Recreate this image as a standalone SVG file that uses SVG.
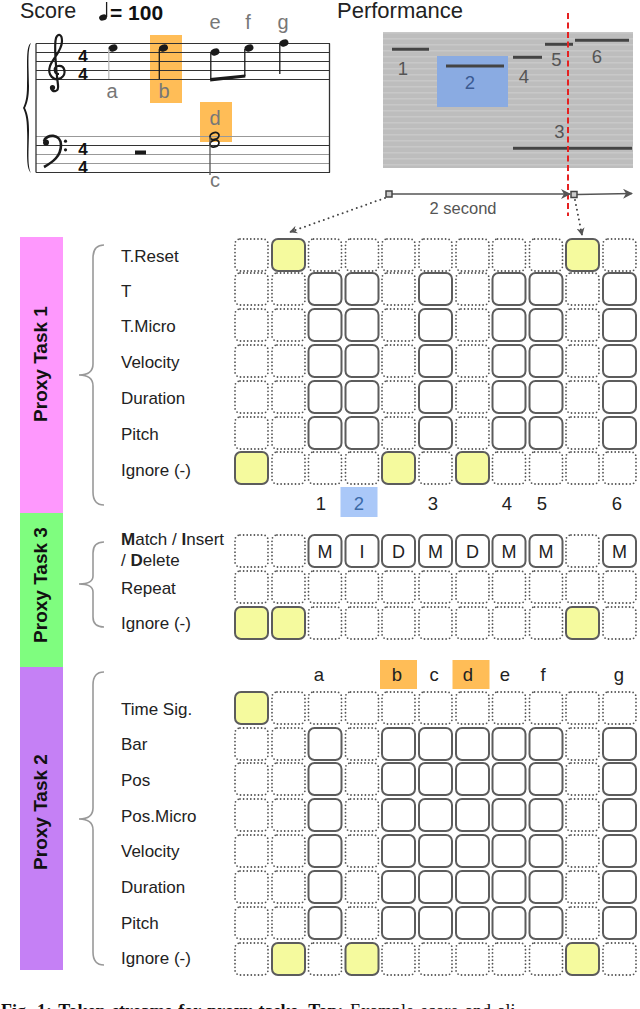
<svg xmlns="http://www.w3.org/2000/svg" width="640" height="1009" viewBox="0 0 640 1009">
<style>
.lbl{font-family:"Liberation Sans",Arial,sans-serif;font-size:17px;fill:#222}
.num{font-family:"Liberation Sans",Arial,sans-serif;font-size:18.5px;fill:#222;text-anchor:middle}
.pnum{font-family:"Liberation Sans",Arial,sans-serif;font-size:18.5px;fill:#555;text-anchor:middle}
.slbl{font-family:"Liberation Sans",Arial,sans-serif;font-size:20px;fill:#777;text-anchor:middle}
.ttl{font-family:"Liberation Sans",Arial,sans-serif;font-size:21.5px;fill:#222}
.task{font-family:"Liberation Sans",Arial,sans-serif;font-size:19px;font-weight:bold;fill:#111;text-anchor:middle}
.cl{font-family:"Liberation Sans",Arial,sans-serif;font-size:18px;fill:#222;text-anchor:middle}
.dot{fill:none;stroke:#555;stroke-width:1.8;stroke-linecap:round;stroke-dasharray:0 3.6}
.sol{fill:#fff;stroke:#5c5c5c;stroke-width:2}
.yel{fill:#f5fa9e;stroke:#5c5c5c;stroke-width:2}
.brace{fill:none;stroke:#999;stroke-width:1.6}
.staff{stroke:#333;stroke-width:1}
.ink{fill:#1a1a1a}
.stem{stroke:#1a1a1a;stroke-width:1.3}
.pbar{stroke:#444;stroke-width:3}
.tsig{font-family:"Liberation Sans",Arial,sans-serif;font-size:17px;font-weight:bold;fill:#111;text-anchor:middle}
</style>
<defs>
<rect id="cd" width="33" height="32" rx="5" class="dot"/>
<rect id="cs" width="33" height="32" rx="6" class="sol"/>
<rect id="cy" width="33" height="32" rx="6" class="yel"/>
<pattern id="stripes" width="10" height="6" patternUnits="userSpaceOnUse" y="32">
<rect width="10" height="6" fill="#bdbdbd"/><rect width="10" height="1.6" fill="#c8c8c8"/>
</pattern>
<marker id="ah" viewBox="0 0 10 10" refX="9" refY="5" markerWidth="8" markerHeight="8" orient="auto" markerUnits="userSpaceOnUse">
<path d="M0,0 L10,5 L0,10 L3,5 z" fill="#555"/>
</marker>
<marker id="ah2" viewBox="0 0 10 10" refX="9" refY="5" markerWidth="10" markerHeight="10" orient="auto" markerUnits="userSpaceOnUse">
<path d="M0,0 L10,5 L0,10 L3,5 z" fill="#555"/>
</marker>
</defs>
<rect width="640" height="1009" fill="#fff"/>

<!-- SCORE -->
<g id="score">
<text class="ttl" x="20" y="18">Score</text>
<g id="tempo">
<ellipse cx="103" cy="17.5" rx="4" ry="3" transform="rotate(-20 103 17.5)" class="ink"/>
<line x1="106.6" y1="17" x2="106.6" y2="2" class="stem"/>
<text x="110" y="19.5" style="font-family:'Liberation Sans',Arial,sans-serif;font-size:21px;font-weight:bold;fill:#111">= 100</text>
</g>
<rect x="150" y="35" width="32" height="68" fill="#ffbd57"/>
<rect x="200" y="102" width="32" height="40" fill="#ffbd57"/>
<g class="staff">
<line x1="36" y1="43.5" x2="330" y2="43.5"/><line x1="36" y1="52.5" x2="330" y2="52.5"/><line x1="36" y1="61.5" x2="330" y2="61.5"/><line x1="36" y1="70.5" x2="330" y2="70.5"/><line x1="36" y1="79.5" x2="330" y2="79.5"/>
<line x1="36" y1="136.5" x2="330" y2="136.5" stroke="#999"/><line x1="36" y1="145.5" x2="330" y2="145.5"/><line x1="36" y1="154.5" x2="330" y2="154.5" stroke="#999"/><line x1="36" y1="163.5" x2="330" y2="163.5" stroke="#999"/><line x1="36" y1="172.5" x2="330" y2="172.5"/>
<line x1="36" y1="43.5" x2="36" y2="172.5" stroke-width="1.3"/><line x1="329.5" y1="43.5" x2="329.5" y2="172.5" stroke-width="1.3"/>
</g>
<path d="M31 43 C25 46,28 70,27 86 C27 98,25 104,23 108 C25 112,27 118,27 130 C28 146,25 168,31 173 C27 166,29 146,29 130 C29 118,27 112,25 108 C27 104,29 98,29 86 C29 70,27 50,31 43 z" class="ink"/>
<path d="M59 74 C54 74,53 67,58 66 C65 65,67 74,61 78 C54 82,47 75,50 66 C53 58,62 51,62 41 C62 34,58 33,56 38 C54 45,56 70,58 85 C59 92,53 93,51 88" fill="none" stroke="#1a1a1a" stroke-width="2.2"/>
<circle cx="52.5" cy="87.5" r="2.6" class="ink"/>
<path d="M44 141 C46 134,61 133,61 145 C61 156,53 162,44 167" fill="none" stroke="#1a1a1a" stroke-width="2.6"/>
<circle cx="46" cy="142.5" r="3" class="ink"/>
<circle cx="65.5" cy="141.2" r="1.6" class="ink"/><circle cx="65.5" cy="149.8" r="1.6" class="ink"/>
<text class="tsig" x="83" y="61.5">4</text><text class="tsig" x="83" y="80">4</text>
<text class="tsig" x="83" y="154.5">4</text><text class="tsig" x="83" y="173">4</text>
<!-- notes -->
<ellipse cx="113" cy="48" rx="4.6" ry="3.4" transform="rotate(-20 113 48)" class="ink"/>
<line x1="108.8" y1="49" x2="108.8" y2="79" stroke="#bbb" stroke-width="1.3"/>
<ellipse cx="163.5" cy="48" rx="4.6" ry="3.4" transform="rotate(-20 163.5 48)" class="ink"/>
<line x1="159.3" y1="49" x2="159.3" y2="79" class="stem"/>
<ellipse cx="215" cy="52" rx="4.6" ry="3.4" transform="rotate(-20 215 52)" class="ink"/>
<line x1="210.8" y1="53" x2="210.8" y2="80" class="stem"/>
<ellipse cx="249" cy="48" rx="4.6" ry="3.4" transform="rotate(-20 249 48)" class="ink"/>
<line x1="244.8" y1="49" x2="244.8" y2="76" class="stem"/>
<polygon points="210.2,78 245.4,74.5 245.4,77.5 210.2,81.5" class="ink"/>
<ellipse cx="284" cy="43" rx="4.6" ry="3.4" transform="rotate(-20 284 43)" class="ink"/>
<line x1="279.8" y1="44" x2="279.8" y2="74" class="stem"/>
<rect x="135" y="150.5" width="11" height="4" class="ink"/>
<ellipse cx="214.5" cy="136" rx="4.6" ry="3.4" transform="rotate(-20 214.5 136)" fill="none" stroke="#1a1a1a" stroke-width="1.8"/>
<ellipse cx="214.5" cy="143.5" rx="4.6" ry="3.4" transform="rotate(-20 214.5 143.5)" fill="none" stroke="#1a1a1a" stroke-width="1.8"/>
<line x1="210" y1="137" x2="210" y2="175" stroke="#555" stroke-width="1.3"/>
<text class="slbl" x="112" y="98">a</text>
<text class="slbl" x="164" y="98">b</text>
<text class="slbl" x="215" y="29">e</text>
<text class="slbl" x="248" y="29">f</text>
<text class="slbl" x="283" y="29">g</text>
<text class="slbl" x="215" y="125">d</text>
<text class="slbl" x="215" y="187">c</text>
</g>

<!-- PERFORMANCE -->
<g id="performance">
<text class="ttl" x="337" y="18" style="font-size:22px">Performance</text>
<rect x="383" y="32" width="250" height="136" fill="url(#stripes)"/>
<rect x="437" y="56" width="71" height="51" fill="#8aabe2"/>
<line x1="392" y1="49.3" x2="429" y2="49.3" class="pbar"/>
<line x1="446" y1="66" x2="504" y2="66" class="pbar" stroke="#3a5590"/>
<line x1="513" y1="57.3" x2="542" y2="57.3" class="pbar"/>
<line x1="545" y1="44.3" x2="573" y2="44.3" class="pbar"/>
<line x1="575" y1="40.3" x2="629" y2="40.3" class="pbar"/>
<line x1="513" y1="148.3" x2="632" y2="148.3" class="pbar"/>
<text class="pnum" x="403" y="75">1</text>
<text class="pnum" x="470" y="88.5" style="fill:#3b5a92">2</text>
<text class="pnum" x="524" y="83">4</text>
<text class="pnum" x="556.5" y="66">5</text>
<text class="pnum" x="597" y="62.5">6</text>
<text class="pnum" x="559.5" y="138">3</text>
</g>

<!-- CONNECTORS -->
<g id="connectors">
<line x1="568" y1="13" x2="568" y2="216" stroke="#e62020" stroke-width="2" stroke-dasharray="6 3.5"/>
<line x1="392" y1="194" x2="570" y2="194" stroke="#555" stroke-width="1.6" marker-end="url(#ah2)"/>
<line x1="577" y1="194.5" x2="632" y2="193.5" stroke="#555" stroke-width="1.6" marker-end="url(#ah2)"/>
<rect x="386" y="191" width="6" height="6" fill="#ccc" stroke="#444" stroke-width="1.5"/>
<rect x="571" y="191.5" width="6" height="6" fill="#ccc" stroke="#444" stroke-width="1.5"/>
<path d="M385 198 L290 232" fill="none" stroke="#444" stroke-width="2" stroke-linecap="round" stroke-dasharray="0 5" marker-end="url(#ah)"/>
<path d="M575 200 L582 235" fill="none" stroke="#444" stroke-width="2" stroke-linecap="round" stroke-dasharray="0 5" marker-end="url(#ah)"/>
<text x="463" y="214" style="font-family:'Liberation Sans',Arial,sans-serif;font-size:16.5px;fill:#555" text-anchor="middle">2 second</text>
</g>

<!-- TASK BARS -->
<g id="task1-bar"><rect x="20" y="237" width="43" height="276" fill="#fe98fd"/><text class="task" transform="translate(47 364) rotate(-90)">Proxy Task 1</text></g>
<g id="task3-bar"><rect x="20" y="513" width="43" height="154" fill="#7ffd7f"/><text class="task" transform="translate(47 585) rotate(-90)">Proxy Task 3</text></g>
<g id="task2-bar"><rect x="20" y="667" width="43" height="303" fill="#c580f5"/><text class="task" transform="translate(47 812) rotate(-90)">Proxy Task 2</text></g>

<!-- BRACES -->
<g id="braces">
<path class="brace" d="M104 245 Q93 245 93 258 L93 364 Q93 375 79 375 Q93 375 93 386 L93 492 Q93 505 104 505"/>
<path class="brace" d="M104 542 Q93 542 93 553 L93 576 Q93 584 79 584 Q93 584 93 592 L93 617 Q93 627 104 627"/>
<path class="brace" d="M104 672 Q93 672 93 685 L93 808 Q93 819 79 819 Q93 819 93 830 L93 952 Q93 965 104 965"/>
</g>

<!-- TASK 1 -->
<g id="task1-labels">
<text class="lbl" x="121" y="262">T.Reset</text>
<text class="lbl" x="121" y="297">T</text>
<text class="lbl" x="121" y="332">T.Micro</text>
<text class="lbl" x="121" y="368">Velocity</text>
<text class="lbl" x="121" y="404">Duration</text>
<text class="lbl" x="121" y="440">Pitch</text>
<text class="lbl" x="121" y="476">Ignore (-)</text>
</g>
<g id="task1-grid">
<g id="t1-r0">
<use href="#cd" x="235" y="239"/><use href="#cy" x="272" y="239"/><use href="#cd" x="308.5" y="239"/><use href="#cd" x="345.5" y="239"/><use href="#cd" x="382" y="239"/><use href="#cd" x="419" y="239"/><use href="#cd" x="456" y="239"/><use href="#cd" x="492.5" y="239"/><use href="#cd" x="529.5" y="239"/><use href="#cy" x="566" y="239"/><use href="#cd" x="603" y="239"/>
</g>
<g id="t1-r1">
<use href="#cd" x="235" y="273"/><use href="#cd" x="272" y="273"/><use href="#cs" x="308.5" y="273"/><use href="#cs" x="345.5" y="273"/><use href="#cd" x="382" y="273"/><use href="#cs" x="419" y="273"/><use href="#cd" x="456" y="273"/><use href="#cs" x="492.5" y="273"/><use href="#cs" x="529.5" y="273"/><use href="#cd" x="566" y="273"/><use href="#cs" x="603" y="273"/>
</g>
<g id="t1-r2">
<use href="#cd" x="235" y="309"/><use href="#cd" x="272" y="309"/><use href="#cs" x="308.5" y="309"/><use href="#cs" x="345.5" y="309"/><use href="#cd" x="382" y="309"/><use href="#cs" x="419" y="309"/><use href="#cd" x="456" y="309"/><use href="#cs" x="492.5" y="309"/><use href="#cs" x="529.5" y="309"/><use href="#cd" x="566" y="309"/><use href="#cs" x="603" y="309"/>
</g>
<g id="t1-r3">
<use href="#cd" x="235" y="345"/><use href="#cd" x="272" y="345"/><use href="#cs" x="308.5" y="345"/><use href="#cs" x="345.5" y="345"/><use href="#cd" x="382" y="345"/><use href="#cs" x="419" y="345"/><use href="#cd" x="456" y="345"/><use href="#cs" x="492.5" y="345"/><use href="#cs" x="529.5" y="345"/><use href="#cd" x="566" y="345"/><use href="#cs" x="603" y="345"/>
</g>
<g id="t1-r4">
<use href="#cd" x="235" y="381"/><use href="#cd" x="272" y="381"/><use href="#cs" x="308.5" y="381"/><use href="#cs" x="345.5" y="381"/><use href="#cd" x="382" y="381"/><use href="#cs" x="419" y="381"/><use href="#cd" x="456" y="381"/><use href="#cs" x="492.5" y="381"/><use href="#cs" x="529.5" y="381"/><use href="#cd" x="566" y="381"/><use href="#cs" x="603" y="381"/>
</g>
<g id="t1-r5">
<use href="#cd" x="235" y="417"/><use href="#cd" x="272" y="417"/><use href="#cs" x="308.5" y="417"/><use href="#cs" x="345.5" y="417"/><use href="#cd" x="382" y="417"/><use href="#cs" x="419" y="417"/><use href="#cd" x="456" y="417"/><use href="#cs" x="492.5" y="417"/><use href="#cs" x="529.5" y="417"/><use href="#cd" x="566" y="417"/><use href="#cs" x="603" y="417"/>
</g>
<g id="t1-r6">
<use href="#cy" x="235" y="452"/><use href="#cd" x="272" y="452"/><use href="#cd" x="308.5" y="452"/><use href="#cd" x="345.5" y="452"/><use href="#cy" x="382" y="452"/><use href="#cd" x="419" y="452"/><use href="#cy" x="456" y="452"/><use href="#cd" x="492.5" y="452"/><use href="#cd" x="529.5" y="452"/><use href="#cd" x="566" y="452"/><use href="#cd" x="603" y="452"/>
</g>
</g>
<g id="task1-numbers">
<rect x="340.5" y="487" width="37" height="30" fill="#aac8f8"/>
<text class="num" x="321" y="510">1</text>
<text class="num" x="359" y="510" style="fill:#3b6aa8">2</text>
<text class="num" x="433" y="510">3</text>
<text class="num" x="507" y="510">4</text>
<text class="num" x="542" y="510">5</text>
<text class="num" x="617" y="510">6</text>
</g>

<!-- TASK 3 -->
<g id="task3-labels">
<text class="lbl" x="121" y="545"><tspan font-weight="bold">M</tspan>atch / <tspan font-weight="bold">I</tspan>nsert</text>
<text class="lbl" x="121" y="566">/ <tspan font-weight="bold">D</tspan>elete</text>
<text class="lbl" x="121" y="594">Repeat</text>
<text class="lbl" x="121" y="629">Ignore (-)</text>
</g>
<g id="task3-grid">
<g id="t3-r0">
<use href="#cd" x="235" y="535"/><use href="#cd" x="272" y="535"/><use href="#cs" x="308.5" y="535"/><use href="#cs" x="345.5" y="535"/><use href="#cs" x="382" y="535"/><use href="#cs" x="419" y="535"/><use href="#cs" x="456" y="535"/><use href="#cs" x="492.5" y="535"/><use href="#cs" x="529.5" y="535"/><use href="#cd" x="566" y="535"/><use href="#cs" x="603" y="535"/>
<text class="cl" x="325" y="558">M</text><text class="cl" x="362" y="558">I</text><text class="cl" x="398.5" y="558">D</text><text class="cl" x="435.5" y="558">M</text><text class="cl" x="472.5" y="558">D</text><text class="cl" x="509" y="558">M</text><text class="cl" x="546" y="558">M</text><text class="cl" x="619.5" y="558">M</text>
</g>
<g id="t3-r1">
<use href="#cd" x="235" y="571"/><use href="#cd" x="272" y="571"/><use href="#cd" x="308.5" y="571"/><use href="#cd" x="345.5" y="571"/><use href="#cd" x="382" y="571"/><use href="#cd" x="419" y="571"/><use href="#cd" x="456" y="571"/><use href="#cd" x="492.5" y="571"/><use href="#cd" x="529.5" y="571"/><use href="#cd" x="566" y="571"/><use href="#cd" x="603" y="571"/>
</g>
<g id="t3-r2">
<use href="#cy" x="235" y="607"/><use href="#cy" x="272" y="607"/><use href="#cd" x="308.5" y="607"/><use href="#cd" x="345.5" y="607"/><use href="#cd" x="382" y="607"/><use href="#cd" x="419" y="607"/><use href="#cd" x="456" y="607"/><use href="#cd" x="492.5" y="607"/><use href="#cd" x="529.5" y="607"/><use href="#cy" x="566" y="607"/><use href="#cd" x="603" y="607"/>
</g>
</g>

<!-- TASK 2 -->
<g id="task2-letters">
<rect x="380" y="660" width="37" height="29" fill="#ffbd57"/>
<rect x="452.5" y="660" width="37" height="29" fill="#ffbd57"/>
<text class="num" x="319" y="681">a</text>
<text class="num" x="397" y="681">b</text>
<text class="num" x="434" y="681">c</text>
<text class="num" x="468" y="681">d</text>
<text class="num" x="505" y="681">e</text>
<text class="num" x="543" y="681">f</text>
<text class="num" x="619" y="681">g</text>
</g>
<g id="task2-labels">
<text class="lbl" x="121" y="715">Time Sig.</text>
<text class="lbl" x="121" y="750">Bar</text>
<text class="lbl" x="121" y="786">Pos</text>
<text class="lbl" x="121" y="822">Pos.Micro</text>
<text class="lbl" x="121" y="857">Velocity</text>
<text class="lbl" x="121" y="893">Duration</text>
<text class="lbl" x="121" y="929">Pitch</text>
<text class="lbl" x="121" y="964">Ignore (-)</text>
</g>
<g id="task2-grid">
<g id="t2-r0">
<use href="#cy" x="235" y="692"/><use href="#cd" x="272" y="692"/><use href="#cd" x="308.5" y="692"/><use href="#cd" x="345.5" y="692"/><use href="#cd" x="382" y="692"/><use href="#cd" x="419" y="692"/><use href="#cd" x="456" y="692"/><use href="#cd" x="492.5" y="692"/><use href="#cd" x="529.5" y="692"/><use href="#cd" x="566" y="692"/><use href="#cd" x="603" y="692"/>
</g>
<g id="t2-r1">
<use href="#cd" x="235" y="728"/><use href="#cd" x="272" y="728"/><use href="#cs" x="308.5" y="728"/><use href="#cd" x="345.5" y="728"/><use href="#cs" x="382" y="728"/><use href="#cs" x="419" y="728"/><use href="#cs" x="456" y="728"/><use href="#cs" x="492.5" y="728"/><use href="#cs" x="529.5" y="728"/><use href="#cd" x="566" y="728"/><use href="#cs" x="603" y="728"/>
</g>
<g id="t2-r2">
<use href="#cd" x="235" y="763"/><use href="#cd" x="272" y="763"/><use href="#cs" x="308.5" y="763"/><use href="#cd" x="345.5" y="763"/><use href="#cs" x="382" y="763"/><use href="#cs" x="419" y="763"/><use href="#cs" x="456" y="763"/><use href="#cs" x="492.5" y="763"/><use href="#cs" x="529.5" y="763"/><use href="#cd" x="566" y="763"/><use href="#cs" x="603" y="763"/>
</g>
<g id="t2-r3">
<use href="#cd" x="235" y="799"/><use href="#cd" x="272" y="799"/><use href="#cs" x="308.5" y="799"/><use href="#cd" x="345.5" y="799"/><use href="#cs" x="382" y="799"/><use href="#cs" x="419" y="799"/><use href="#cs" x="456" y="799"/><use href="#cs" x="492.5" y="799"/><use href="#cs" x="529.5" y="799"/><use href="#cd" x="566" y="799"/><use href="#cs" x="603" y="799"/>
</g>
<g id="t2-r4">
<use href="#cd" x="235" y="835"/><use href="#cd" x="272" y="835"/><use href="#cs" x="308.5" y="835"/><use href="#cd" x="345.5" y="835"/><use href="#cs" x="382" y="835"/><use href="#cs" x="419" y="835"/><use href="#cs" x="456" y="835"/><use href="#cs" x="492.5" y="835"/><use href="#cs" x="529.5" y="835"/><use href="#cd" x="566" y="835"/><use href="#cs" x="603" y="835"/>
</g>
<g id="t2-r5">
<use href="#cd" x="235" y="871"/><use href="#cd" x="272" y="871"/><use href="#cs" x="308.5" y="871"/><use href="#cd" x="345.5" y="871"/><use href="#cs" x="382" y="871"/><use href="#cs" x="419" y="871"/><use href="#cs" x="456" y="871"/><use href="#cs" x="492.5" y="871"/><use href="#cs" x="529.5" y="871"/><use href="#cd" x="566" y="871"/><use href="#cs" x="603" y="871"/>
</g>
<g id="t2-r6">
<use href="#cd" x="235" y="907"/><use href="#cd" x="272" y="907"/><use href="#cs" x="308.5" y="907"/><use href="#cd" x="345.5" y="907"/><use href="#cs" x="382" y="907"/><use href="#cs" x="419" y="907"/><use href="#cs" x="456" y="907"/><use href="#cs" x="492.5" y="907"/><use href="#cs" x="529.5" y="907"/><use href="#cd" x="566" y="907"/><use href="#cs" x="603" y="907"/>
</g>
<g id="t2-r7">
<use href="#cd" x="235" y="943"/><use href="#cy" x="272" y="943"/><use href="#cd" x="308.5" y="943"/><use href="#cy" x="345.5" y="943"/><use href="#cd" x="382" y="943"/><use href="#cd" x="419" y="943"/><use href="#cd" x="456" y="943"/><use href="#cd" x="492.5" y="943"/><use href="#cd" x="529.5" y="943"/><use href="#cy" x="566" y="943"/><use href="#cd" x="603" y="943"/>
</g>
</g>

<text x="1" y="1016.5" style="font-family:'Liberation Serif','Times New Roman',serif;font-size:18px;fill:#111" word-spacing="2"><tspan font-weight="bold">Fig. 1: Token streams for proxy tasks. Top:</tspan> Example score and ali</text>
</svg>
